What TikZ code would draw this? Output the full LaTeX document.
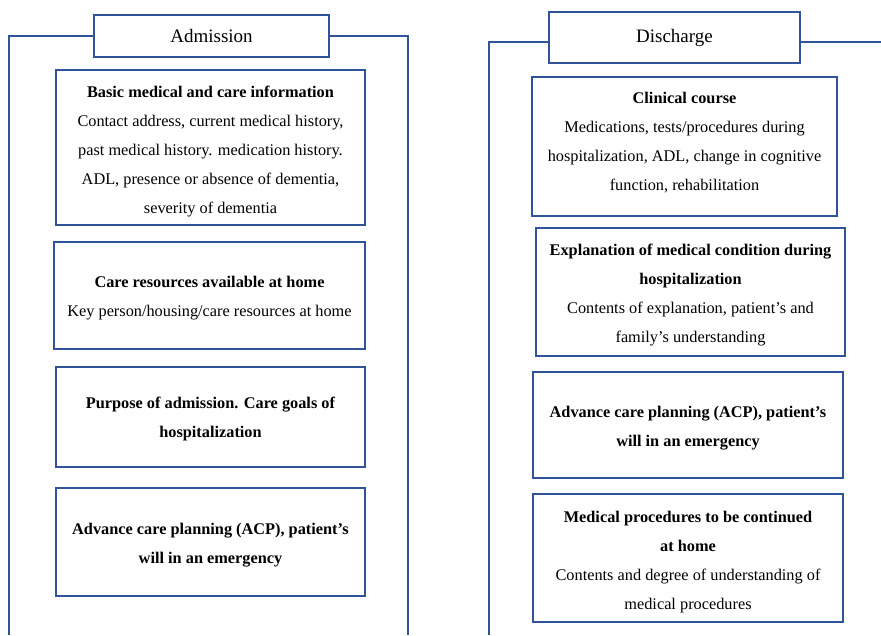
\documentclass[tikz,border=0pt]{standalone}
\usepackage{fontspec}
\setmainfont{Liberation Serif}
\usepackage{xcolor}
\usetikzlibrary{positioning}
\definecolor{frameblue}{HTML}{30539A}
% struts to push the text inside a box down (top) or up (bottom)
\newcommand{\topgap}[1]{\rule{0pt}{#1}}
\newcommand{\botgap}[1]{\rule[-#1]{0pt}{0pt}}

\begin{document}
\begin{tikzpicture}[x=1pt, y=-1pt,
        framel/.style={draw=frameblue, line width=1.6pt},
        titlebox/.style={framel, fill=white, inner sep=0pt, font=\fontsize{19}{23}\selectfont},
        infobox/.style={framel, align=center, inner sep=0pt, font=\fontsize{16.3}{29}\selectfont}]
        \useasboundingbox (0,0) rectangle (881,635);

        % headers
        \node[titlebox, minimum width=235pt, minimum height=42pt] (adm) at (211.5,36) {Admission};
        \node[titlebox, minimum width=251pt, minimum height=51pt] (dis) at (674.5,37.5) {Discharge};
        \coordinate (dtop) at (0,42);

        \draw[framel] (adm.west) -- (9,36) -- (9,635);
        \draw[framel] (adm.east) -- (408,36) -- (408,635);
        \draw[framel] (dis.west |- dtop) -- (489,42) -- (489,635);
        \draw[framel] (dis.east |- dtop) -- (881,42);

        % admission
        \node[infobox, minimum width=309pt, minimum height=155pt] (basic) at (210.5,147.5)
            {\topgap{19pt}\textbf{Basic medical and care information}\\
            Contact address, current medical history,\\
            past medical history. medication history.\\
            ADL, presence or absence of dementia,\\
            severity of dementia};
        \node[infobox, minimum width=311pt, minimum height=107pt] (home) at (209.5,295.5)
            {\topgap{17pt}\textbf{Care resources available at home}\\
            Key person/housing/care resources at home};
        \node[infobox, minimum width=309pt, minimum height=100pt] (goal) at (210.5,417)
            {\topgap{15pt}\textbf{Purpose of admission. Care goals of}\\
            \textbf{hospitalization}};
        \node[infobox, minimum width=309pt, minimum height=108pt] (acpa) at (210.5,542)
            {\topgap{17pt}\textbf{Advance care planning (ACP), patient’s}\\
            \textbf{will in an emergency}};

        % discharge
        \node[infobox, minimum width=305pt, minimum height=139pt] (course) at (684.5,146.5)
            {\textbf{Clinical course}\\
            Medications, tests/procedures during\\
            hospitalization, ADL, change in cognitive\\
            function, rehabilitation\botgap{10pt}};
        \node[infobox, minimum width=309pt, minimum height=128pt] (expl) at (690.5,292)
            {\topgap{17pt}\textbf{Explanation of medical condition during}\\
            \textbf{hospitalization}\\
            Contents of explanation, patient’s and\\
            family’s understanding};
        \node[infobox, minimum width=310pt, minimum height=106pt] (acpd) at (688,425)
            {\topgap{17pt}\textbf{Advance care planning (ACP), patient’s}\\
            \textbf{will in an emergency}};
        \node[infobox, minimum width=310pt, minimum height=128pt] (proc) at (688,558)
            {\topgap{19pt}\textbf{Medical procedures to be continued}\\
            \textbf{at home}\\
            Contents and degree of understanding of\\
            medical procedures};
    \end{tikzpicture}
\end{document}
